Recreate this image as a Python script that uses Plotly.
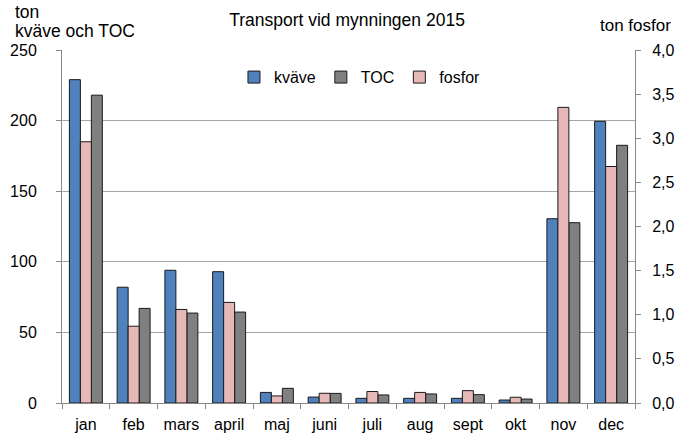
import plotly.graph_objects as go

months = ["jan", "feb", "mars", "april", "maj", "juni", "juli", "aug", "sept", "okt", "nov", "dec"]
kvave = [229, 82, 94, 93, 7.5, 4.2, 3.3, 3.3, 3.3, 2.1, 130.5, 199.5]
toc = [218, 67, 63.7, 64.4, 10.4, 6.8, 5.7, 6.4, 5.9, 2.8, 127.7, 182.5]
fosfor = [2.96, 0.87, 1.06, 1.14, 0.08, 0.11, 0.13, 0.12, 0.14, 0.065, 3.35, 2.68]

FONT = "Liberation Sans, Arial, sans-serif"
W = 0.23
line = dict(color="#1a1a1a", width=1)

fig = go.Figure()
fig.add_trace(go.Bar(x=months, y=kvave, name="kväve", marker=dict(color="#4F81BD", line=line),
                     width=W, offset=-1.5 * W, legendrank=1))
fig.add_trace(go.Bar(x=months, y=fosfor, name="fosfor", yaxis="y2", marker=dict(color="#E6B9B8", line=line),
                     width=W, offset=-0.5 * W, legendrank=3))
fig.add_trace(go.Bar(x=months, y=toc, name="TOC", marker=dict(color="#808080", line=line),
                     width=W, offset=0.5 * W, legendrank=2))

fig.update_layout(
    width=694, height=439,
    margin=dict(l=62, r=59, t=50, b=36, autoexpand=False),
    paper_bgcolor="white", plot_bgcolor="white",
    font=dict(family=FONT, size=16, color="#000"),
    separators=", ",
    barmode="overlay",
    title=dict(text="Transport vid mynningen 2015", x=0.5, xanchor="center", y=0.955, yanchor="middle",
               font=dict(size=17.5, family=FONT)),
    legend=dict(orientation="h", x=0.52, y=0.923, xanchor="center", yanchor="middle",
                font=dict(size=16), itemwidth=30, tracegroupgap=0, bgcolor="rgba(0,0,0,0)"),
    xaxis=dict(type="category", tickson="boundaries", ticks="outside", ticklen=5, tickcolor="#888",
               showline=True, linecolor="#888", linewidth=1, showgrid=False, automargin=False,
               tickfont=dict(size=16), range=[-0.5, 11.5], ticklabelstandoff=7),
    yaxis=dict(range=[0, 250], dtick=50, showgrid=True, gridcolor="#a6a6a6", gridwidth=1,
               showline=True, linecolor="#888", ticks="outside", ticklen=5, tickcolor="#888",
               tickfont=dict(size=16), zeroline=False, ticklabelstandoff=16, automargin=False),
    yaxis2=dict(range=[0, 4], dtick=0.5, tickformat=".1f", overlaying="y", side="right",
                showgrid=False, showline=True, linecolor="#888", ticks="outside", ticklen=5,
                tickcolor="#888", tickfont=dict(size=16), zeroline=False, ticklabelstandoff=8,
                automargin=False),
    annotations=[
        dict(text="ton", xref="paper", yref="paper", x=-0.085, y=1.1076,
             xanchor="left", yanchor="middle", showarrow=False, font=dict(size=17.5)),
        dict(text="kväve och TOC", xref="paper", yref="paper", x=-0.085, y=1.0538,
             xanchor="left", yanchor="middle", showarrow=False, font=dict(size=17.5)),
        dict(text="ton fosfor", xref="paper", yref="paper", x=1.066, y=1.068,
             xanchor="right", yanchor="middle", showarrow=False, font=dict(size=17)),
    ],
)

fig.write_html("out.html", config={"displayModeBar": False},
               post_script="document.body.style.margin='0';")
